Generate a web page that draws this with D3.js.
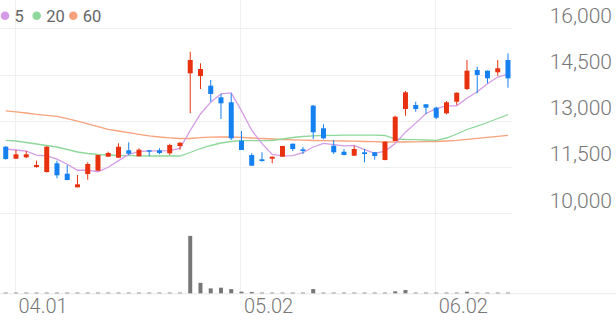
<!DOCTYPE html>
<html>
<head>
<meta charset="utf-8">
<script src="https://cdn.jsdelivr.net/npm/d3@7"></script>
<style>
  body { margin: 0; background: #fff; }
  svg { display: block; font-family: Roboto, "Noto Sans", sans-serif; }
</style>
</head>
<body>
<div class="vis-candle"></div>
<script>
const dates = ["03.31","04.01","04.02","04.03","04.04","04.07","04.08","04.09","04.10","04.11",
  "04.14","04.15","04.16","04.17","04.18","04.21","04.22","04.23","04.24","04.25",
  "04.28","04.29","04.30","05.02","05.07","05.08","05.09","05.12","05.13","05.14",
  "05.15","05.16","05.19","05.20","05.21","05.22","05.23","05.26","05.27","05.28",
  "05.29","05.30","06.02","06.04","06.05","06.09","06.10","06.11","06.12","06.13"];

const open = [12160,11771,11816,11501,11339,11622,11284,10843,11274,11381,
  11836,11803,12043,11849,12043,12043,11946,12183,14540,14452,
  14138,13762,13600,12354,11890,11751,11771,11836,12257,12075,
  13490,12757,12192,11998,11868,11978,11978,11729,12345,13382,
  13512,13535,13425,13243,13619,14031,14647,14625,14573,14971];
const high = [12180,12053,12020,11706,12180,11706,11566,11242,11654,11900,
  11998,12270,12302,12108,12050,12108,12257,12300,15241,14865,
  14323,13869,13891,12669,11946,11978,11840,12190,12265,12150,
  13512,12886,12377,12085,12192,12085,11990,12330,13165,13966,
  13619,13545,13457,13642,13920,14971,14754,14630,14971,15189];
const low = [11740,11760,11790,11480,11320,11135,11070,10843,11090,11381,
  11836,11790,11890,11840,11858,11913,11890,12063,13243,14031,
  13619,13058,12377,12050,11540,11673,11622,11830,12020,11923,
  12410,12400,11923,11885,11860,11654,11738,11720,12340,13165,
  13295,13220,13058,13211,13512,13998,13891,14216,14462,14073];
const close = [11760,11913,11913,11566,12160,11232,11080,10940,11599,11890,
  11956,12160,11933,12063,11998,11956,12215,12290,14971,14680,
  13869,13567,12432,12053,11544,11696,11836,12183,12085,12020,
  12627,12432,11978,11890,12085,11923,11858,12322,13133,13924,
  13382,13425,13100,13600,13911,14625,14485,14378,14702,14378];

const ma5 = [12085,12053,12020,11890,11862,11757,11590,11396,11402,11348,
  11493,11709,11908,12000,12022,12022,12033,12104,12686,13222,
  13605,13875,13904,13320,12693,12258,11912,11862,11869,11964,
  12150,12269,12228,12189,12202,12062,11947,12016,12264,12632,
  12924,13237,13393,13486,13484,13732,13944,14200,14420,14514];
const ma20 = [12367,12345,12296,12247,12199,12150,12069,11988,11939,11907,
  11891,11874,11868,11865,11858,11858,11858,11858,11972,12101,
  12199,12280,12328,12354,12354,12354,12361,12410,12458,12491,
  12513,12523,12530,12533,12533,12533,12533,12523,12410,12393,
  12387,12377,12367,12442,12572,12718,12831,12945,13074,13198];
const ma60 = [13324,13292,13253,13211,13178,13146,13074,12993,12902,12815,
  12724,12669,12614,12562,12513,12474,12448,12426,12426,12452,
  12468,12474,12474,12465,12442,12426,12410,12393,12384,12371,
  12361,12354,12351,12345,12338,12328,12322,12312,12312,12312,
  12319,12322,12328,12345,12367,12400,12432,12465,12497,12530];

const volume = [1,1,1,1,1,1,1,1,1,1,
  1,1,1,1,1,1,1,1,82,15,
  7,8,6,2.3,1.9,1,1,1,1,1,
  6.1,1,1,1,1,1,1,1,2.9,4.7,
  1,1,1,1,1,2.3,1,1,1,1];

const xTicks = ["04.01", "05.02", "06.02"];
const yTicks = [10000, 11500, 13000, 14500, 16000];
const maNames = ["5", "20", "60"];

const width = 616, height = 321;
const plotRight = 512;

const svg = d3.select(".vis-candle")
  .append("svg")
  .attr("width", width)
  .attr("height", height);

const x = d3.scaleBand()
  .domain(dates)
  .range([0.6, 0.6 + dates.length * 10.25]);
const cx = (d) => x(d) + x.bandwidth() / 2;

const y = d3.scaleLinear().domain([10000, 16000]).range([213.3, 28.3]);
const yv = d3.scaleLinear().domain([0, 100]).range([293.3, 223.3]);

const color = d3.scaleOrdinal()
  .domain(maNames)
  .range(["#d59be6", "#8ed89c", "#f7a27c"]);

// grid
svg.selectAll(".hgrid")
  .data(yTicks)
  .enter()
  .append("line")
  .attr("x1", 0)
  .attr("x2", plotRight)
  .attr("y1", (d) => Math.round(y(d)) + 0.5)
  .attr("y2", (d) => Math.round(y(d)) + 0.5)
  .attr("stroke", "#efefef");

svg.selectAll(".vgrid")
  .data(xTicks)
  .enter()
  .append("line")
  .attr("x1", (d) => Math.round(cx(d)) - 0.5)
  .attr("x2", (d) => Math.round(cx(d)) - 0.5)
  .attr("y1", 0)
  .attr("y2", 293)
  .attr("stroke", "#efefef");

svg.append("line")
  .attr("x1", 0)
  .attr("x2", width)
  .attr("y1", 293.8)
  .attr("y2", 293.8)
  .attr("stroke", "#e6e6e6");

// y labels
svg.selectAll(".ylab")
  .data(yTicks)
  .enter()
  .append("text")
  .attr("x", 612)
  .attr("y", (d) => y(d) - 5.6)
  .attr("text-anchor", "end")
  .attr("font-size", "21px")
  .attr("font-weight", 300)
  .attr("fill", "#777")
  .text((d) => d3.format(",")(d));

// x labels
svg.selectAll(".xlab")
  .data(xTicks)
  .enter()
  .append("text")
  .attr("x", (d) => cx(d) + 2.5)
  .attr("y", 313)
  .attr("font-size", "20px")
  .attr("font-weight", 300)
  .attr("fill", "#777")
  .text((d) => d);

// moving averages
const mas = [ma5, ma20, ma60];
[2, 1, 0].forEach((k) => {
  svg.append("path")
    .datum(mas[k])
    .attr("fill", "none")
    .attr("stroke", color(maNames[k]))
    .attr("stroke-width", 1.3)
    .attr("d", d3.line().x((d, i) => cx(dates[i])).y((d) => y(d)));
});

// candles
const idx = d3.range(dates.length);
const up = (i) => close[i] >= open[i];
const candleColor = (i) => (up(i) ? "#e8320f" : "#1580f0");

const candles = svg.selectAll(".candle")
  .data(idx)
  .enter()
  .append("g")
  .attr("class", "candle");

candles.append("line")
  .attr("x1", (i) => cx(dates[i]))
  .attr("x2", (i) => cx(dates[i]))
  .attr("y1", (i) => y(high[i]))
  .attr("y2", (i) => y(low[i]))
  .attr("stroke", candleColor)
  .attr("stroke-width", 1);

candles.append("rect")
  .attr("x", (i) => cx(dates[i]) - 2.5)
  .attr("width", 5)
  .attr("y", (i) => y(Math.max(open[i], close[i])))
  .attr("height", (i) => Math.max(1.2, Math.abs(y(open[i]) - y(close[i]))))
  .attr("fill", candleColor);

// volume
svg.selectAll(".vol")
  .data(idx)
  .enter()
  .append("rect")
  .attr("x", (i) => cx(dates[i]) - 2)
  .attr("width", 4)
  .attr("y", (i) => yv(volume[i]))
  .attr("height", (i) => yv(0) - yv(volume[i]))
  .attr("fill", "#777");

// legend
const legend = svg.selectAll(".legend")
  .data(maNames)
  .enter()
  .append("g")
  .attr("class", "legend")
  .attr("transform", (d, i) => "translate(" + [5, 36.7, 73.3][i] + ",15.7)");

legend.append("circle")
  .attr("r", 4.3)
  .attr("fill", (d) => color(d));

legend.append("text")
  .attr("x", 9.5)
  .attr("y", 5.9)
  .attr("font-size", "16.5px")
  .attr("fill", "#666")
  .text((d) => d);
</script>
</body>
</html>
